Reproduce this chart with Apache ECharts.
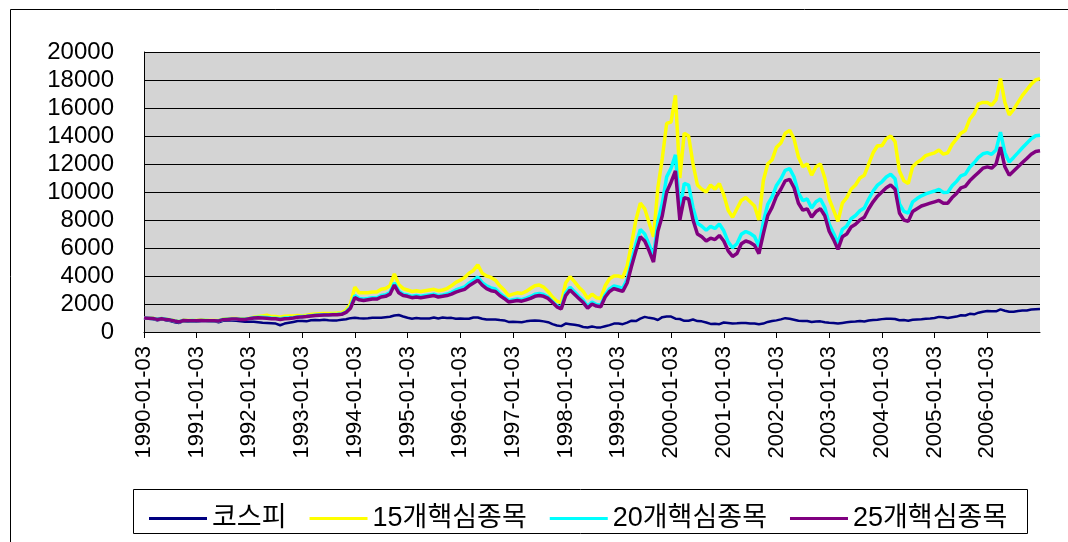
<!DOCTYPE html>
<html>
<head>
<meta charset="utf-8">
<script src="https://cdn.jsdelivr.net/npm/echarts@6/dist/echarts.min.js"></script>
<style>
  html, body { margin: 0; padding: 0; background: #ffffff; }
  #chart { width: 1068px; height: 542px; }
</style>
</head>
<body>
<div id="chart"></div>
<script>
// ---- data (monthly readings from the reference, 1990-01 .. 2006-12, plus year-end point) ----
const years = [1990,1991,1992,1993,1994,1995,1996,1997,1998,1999,2000,2001,2002,2003,2004,2005,2006];
const lastDate = '2006-12-28';

const seriesNames = ['코스피', '15개핵심종목', '20개핵심종목', '25개핵심종목'];

const kospi = [
  1000, 950, 930, 840, 900, 830, 780, 700, 650, 780, 740, 760,
  740, 800, 800, 780, 760, 700, 800, 820, 830, 810, 760, 740,
  740, 740, 700, 660, 640, 620, 600, 480, 600, 660, 720, 780,
  780, 760, 840, 850, 840, 880, 840, 830, 830, 870, 910, 990,
  1020, 980, 960, 980, 1010, 1020, 1010, 1050, 1090, 1180, 1210, 1110,
  1020, 950, 1000, 960, 970, 970, 1030, 970, 1030, 1000, 1010, 950,
  960, 950, 950, 1040, 1040, 950, 900, 890, 900, 850, 830, 720,
  730, 720, 700, 760, 800, 820, 810, 760, 700, 560, 460, 420,
  600, 560, 520, 460, 360, 320, 390, 330, 330, 410, 490, 600,
  610, 560, 670, 810, 780, 950, 1080, 1010, 970, 860, 1060, 1110,
  1100, 950, 930, 800, 800, 890, 780, 760, 680, 580, 590, 560,
  680, 650, 600, 620, 650, 650, 600, 610, 560, 600, 720, 780,
  830, 900, 990, 950, 880, 810, 780, 790, 720, 750, 760, 700,
  660, 640, 600, 650, 690, 730, 750, 790, 750, 820, 850, 880,
  920, 950, 950, 930, 840, 850, 800, 870, 900, 910, 940, 960,
  1000, 1080, 1050, 1000, 1050, 1100, 1200, 1180, 1300, 1260, 1380, 1450,
  1500, 1480, 1480, 1620, 1520, 1450, 1450, 1500, 1530, 1540, 1600, 1620,
  1640
];

const core15 = [
  1000, 990, 980, 920, 970, 920, 870, 800, 740, 840, 820, 830,
  820, 850, 840, 830, 830, 820, 910, 940, 960, 960, 940, 950,
  980, 1050, 1100, 1150, 1200, 1100, 1100, 1050, 1120, 1150, 1150, 1180,
  1150, 1200, 1250, 1280, 1300, 1320, 1320, 1330, 1350, 1380, 1550, 2000,
  3200, 2800, 2800, 2800, 2850, 2850, 3050, 3100, 3300, 4150, 3400, 3100,
  3000, 2900, 2950, 2900, 2950, 3000, 3050, 2950, 3000, 3100, 3300, 3550,
  3700, 3900, 4200, 4400, 4800, 4200, 4000, 3900, 3700, 3300, 3000, 2600,
  2700, 2800, 2750, 2900, 3100, 3300, 3350, 3200, 2900, 2500, 2200, 2100,
  3500, 3950, 3600, 3200, 2900, 2400, 2700, 2450, 2400, 3300, 3800, 4000,
  4000, 3900, 4700, 6300, 8000, 9200, 8800, 7800, 6800, 10300, 12400, 14900,
  15000, 16900, 11000, 14200, 14000, 12000, 10500, 10200, 10000, 10500, 10200, 10600,
  9800, 8700, 8200, 8800, 9400, 9600, 9300, 9000, 8000, 10800, 12000, 12300,
  13200, 13500, 14200, 14400, 13800, 12500, 11800, 12000, 11200, 11800, 12000, 11000,
  9500, 8700, 7900, 9200, 9600, 10200, 10500, 11000, 11200, 12000, 12800, 13300,
  13300, 13800, 14000, 13600, 11500, 10800, 10600, 11800, 12100, 12300, 12600, 12700,
  12800, 13000, 12700, 12800, 13400, 13800, 14200, 14400, 15200, 15600, 16300, 16400,
  16400, 16200, 16600, 18100, 16400, 15500, 15900, 16400, 16900, 17300, 17700, 18000,
  18100
];

const core20 = [
  1000, 985, 970, 910, 960, 910, 860, 790, 730, 830, 810, 820,
  810, 830, 820, 810, 810, 800, 890, 910, 930, 930, 910, 910,
  960, 1020, 1050, 1050, 1040, 1000, 990, 950, 1000, 1020, 1040, 1080,
  1100, 1120, 1170, 1200, 1220, 1240, 1240, 1250, 1260, 1280, 1430, 1770,
  2600, 2400, 2360, 2400, 2450, 2450, 2610, 2660, 2820, 3510, 2920, 2700,
  2650, 2550, 2600, 2550, 2600, 2650, 2700, 2600, 2650, 2710, 2830, 3000,
  3110, 3230, 3490, 3690, 3930, 3530, 3290, 3150, 3070, 2750, 2530, 2240,
  2300, 2360, 2310, 2420, 2540, 2700, 2750, 2680, 2500, 2180, 1880, 1740,
  2780, 3190, 2880, 2560, 2260, 1840, 2140, 1970, 1920, 2660, 3080, 3280,
  3220, 3120, 3760, 5050, 6280, 7330, 7010, 6240, 5400, 7880, 9200, 11080,
  11700, 12650, 8660, 10610, 10490, 8880, 7770, 7550, 7270, 7540, 7390, 7710,
  7230, 6440, 6020, 6300, 6980, 7180, 7040, 6820, 6130, 7840, 9110, 9650,
  10470, 10930, 11550, 11670, 11070, 9930, 9380, 9500, 8860, 9300, 9500, 8890,
  7710, 7060, 6340, 7330, 7570, 8090, 8320, 8660, 8860, 9500, 10070, 10490,
  10730, 11070, 11270, 10950, 9160, 8620, 8490, 9300, 9530, 9730, 9870, 9970,
  10070, 10190, 9970, 9990, 10440, 10760, 11160, 11280, 11770, 12090, 12480, 12730,
  12810, 12690, 13010, 14280, 12810, 12150, 12470, 12810, 13160, 13480, 13800, 14020,
  14050
];

const core25 = [
  1000, 980, 960, 900, 950, 900, 850, 780, 720, 820, 800, 810,
  800, 820, 810, 800, 800, 790, 880, 900, 920, 920, 900, 900,
  950, 1000, 1020, 1000, 980, 950, 940, 900, 950, 970, 1000, 1050,
  1080, 1100, 1150, 1180, 1200, 1220, 1220, 1230, 1240, 1260, 1400, 1700,
  2450, 2300, 2250, 2300, 2350, 2350, 2500, 2550, 2700, 3350, 2800, 2600,
  2550, 2450, 2500, 2450, 2500, 2550, 2600, 2500, 2550, 2600, 2700, 2850,
  2950, 3050, 3300, 3500, 3700, 3350, 3100, 2950, 2900, 2600, 2400, 2150,
  2200, 2250, 2200, 2300, 2400, 2550, 2600, 2550, 2400, 2100, 1800, 1650,
  2600, 3000, 2700, 2400, 2100, 1700, 2000, 1850, 1800, 2500, 2900, 3100,
  3000, 2900, 3500, 4700, 5800, 6800, 6500, 5800, 5000, 7200, 8300, 10000,
  10700, 11500, 8000, 9600, 9500, 8000, 7000, 6800, 6500, 6700, 6600, 6900,
  6500, 5800, 5400, 5600, 6300, 6500, 6400, 6200, 5600, 7000, 8300, 8900,
  9700, 10200, 10800, 10900, 10300, 9200, 8700, 8800, 8200, 8600, 8800, 8300,
  7200, 6600, 5900, 6800, 7000, 7500, 7700, 8000, 8200, 8800, 9300, 9700,
  10000, 10300, 10500, 10200, 8500, 8000, 7900, 8600, 8800, 9000, 9100, 9200,
  9300, 9400, 9200, 9200, 9600, 9900, 10300, 10400, 10800, 11100, 11400, 11700,
  11800, 11700, 12000, 13200, 11800, 11200, 11500, 11800, 12100, 12400, 12700, 12900,
  12950
];

// category axis: one entry per month, tick/label on each January
const categories = [];
years.forEach(y => {
  for (let m = 1; m <= 12; m++) categories.push(y + '-' + String(m).padStart(2, '0') + '-03');
});
categories.push(lastDate);

const colors = ['#000080', '#FFFF00', '#00FFFF', '#800080'];
const widths = [2.5, 3.5, 3.5, 3.5];
const values = [kospi, core15, core20, core25];

const FONT = "'Liberation Sans', Arial, 'Noto Sans CJK KR', sans-serif";

const chart = echarts.init(document.getElementById('chart'), null, { renderer: 'canvas' });

const isJan = (idx) => idx < categories.length - 1 && idx % 12 === 0;

chart.setOption({
  animation: false,
  backgroundColor: '#ffffff',
  grid: {
    left: 144, right: 28, top: 52, bottom: 210,
    show: true, backgroundColor: '#D4D4D4', borderWidth: 0
  },
  graphic: [
    { type: 'rect', shape: { x: 10.5, y: 9.5, width: 1100, height: 600 },
      style: { fill: 'none', stroke: '#000', lineWidth: 1 }, silent: true, z: 0 },
    { type: 'rect', shape: { x: 133.5, y: 489.5, width: 894, height: 44 },
      style: { fill: 'none', stroke: '#000', lineWidth: 1 }, silent: true, z: 0 }
  ],
  legend: {
    left: 144, top: 500,
    icon: 'rect',
    itemWidth: 58, itemHeight: 3, itemGap: 23,
    textStyle: { fontSize: 27, fontFamily: FONT, color: '#000' },
    data: seriesNames
  },
  xAxis: {
    type: 'category',
    data: categories,
    boundaryGap: false,
    axisLine: { lineStyle: { color: '#000', width: 1 } },
    axisTick: { show: true, interval: (idx) => isJan(idx), length: 6, lineStyle: { color: '#000' } },
    axisLabel: {
      interval: (idx) => isJan(idx),
      rotate: 90, margin: 14,
      fontSize: 22, fontFamily: FONT, color: '#000'
    },
    splitLine: { show: false }
  },
  yAxis: {
    type: 'value',
    min: 0, max: 20000, interval: 2000,
    axisLine: { show: true, lineStyle: { color: '#000', width: 1 } },
    axisTick: { show: true, inside: true, length: 6, lineStyle: { color: '#000' } },
    axisLabel: { margin: 30, fontSize: 24, fontFamily: FONT, color: '#000',
                 formatter: (v) => String(v) },
    splitLine: { show: true, lineStyle: { color: '#000', width: 1 } }
  },
  series: seriesNames.map((name, i) => ({
    name: name,
    type: 'line',
    data: values[i],
    symbol: 'none',
    showSymbol: false,
    color: colors[i],
    lineStyle: { color: colors[i], width: widths[i] },
    z: 2 + i
  }))
});
</script>
</body>
</html>
